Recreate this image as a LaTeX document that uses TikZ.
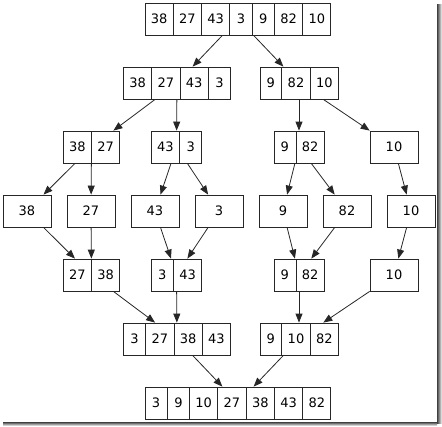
\documentclass[tikz,border=0pt]{standalone}
\usepackage{fontspec}
\setmainfont{DejaVu Sans}
\usetikzlibrary{shapes.multipart,arrows.meta}
\tikzset{
  every node/.style={
    font=\fontsize{13}{15}\selectfont
  },
  record/.style={
    rectangle split,
    rectangle split horizontal,
    rectangle split parts=#1,
    draw=black!85,
    line width=0.8pt,
    inner xsep=0pt,
    inner ysep=0pt
  },
  single/.style={
    shape=rectangle,
    draw=black!85,
    line width=0.8pt,
    minimum width=48pt,
    minimum height=32pt,
    inner sep=0pt
  },
  merge/.style={
    -{Triangle[length=9pt,width=7pt]},
    draw=black!85,
    line width=0.8pt
  }
}
\newcommand{\ncell}[1]{\makebox[21.5pt]{\rule[-11.25pt]{0pt}{32pt}#1}}
\newcommand{\wcell}[1]{\makebox[27.5pt]{\rule[-11.25pt]{0pt}{32pt}#1}}

\begin{document}
\begin{tikzpicture}[x=1pt,y=-1pt]
    \useasboundingbox (0,0) rectangle (442,426);
    % drop shadow of the frame
    \shade[left color=black!75,right color=white] (437,4) rectangle (442,423);
    \shade[top color=black!75,bottom color=white] (3,422) rectangle (437,426);

    % splitting
    \node [record=7] (top) at (238,19) {\wcell{38}\nodepart{two}\wcell{27}\nodepart{three}\wcell{43}\nodepart{four}\ncell{3}\nodepart{five}\ncell{9}\nodepart{six}\wcell{82}\nodepart{seven}\wcell{10}};
    \node [record=4] (l2a) at (177,83) {\wcell{38}\nodepart{two}\wcell{27}\nodepart{three}\wcell{43}\nodepart{four}\ncell{3}};
    \node [record=3] (l2b) at (299,83) {\ncell{9}\nodepart{two}\wcell{82}\nodepart{three}\wcell{10}};
    \node [record=2] (l3a) at (91.5,147) {\wcell{38}\nodepart{two}\wcell{27}};
    \node [record=2] (l3b) at (176.5,147) {\wcell{43}\nodepart{two}\ncell{3}};
    \node [record=2] (l3c) at (299,147) {\ncell{9}\nodepart{two}\wcell{82}};
    \node [single] (l3d) at (394,147) {10};

    % single elements
    \node [single] (s38) at (27,211) {38};
    \node [single] (s27) at (91,211) {27};
    \node [single] (s43) at (155,211) {43};
    \node [single] (s3) at (219,211) {3};
    \node [single] (s9) at (283,211) {9};
    \node [single] (s82) at (347,211) {82};
    \node [single] (s10) at (411,211) {10};

    % merging
    \node [record=2] (l5a) at (91.5,275) {\wcell{27}\nodepart{two}\wcell{38}};
    \node [record=2] (l5b) at (176.5,275) {\ncell{3}\nodepart{two}\wcell{43}};
    \node [record=2] (l5c) at (299,275) {\ncell{9}\nodepart{two}\wcell{82}};
    \node [single] (l5d) at (394,275) {10};
    \node [record=4] (l6a) at (177,339) {\ncell{3}\nodepart{two}\wcell{27}\nodepart{three}\wcell{38}\nodepart{four}\wcell{43}};
    \node [record=3] (l6b) at (299,339) {\ncell{9}\nodepart{two}\wcell{10}\nodepart{three}\wcell{82}};
    \node [record=7] (bottom) at (238,403) {\ncell{3}\nodepart{two}\ncell{9}\nodepart{three}\wcell{10}\nodepart{four}\wcell{27}\nodepart{five}\wcell{38}\nodepart{six}\wcell{43}\nodepart{seven}\wcell{82}};

    \draw [merge] (top) -- (l2a);
    \draw [merge] (top) -- (l2b);
    \draw [merge] (l2a) -- (l3a);
    \draw [merge] (l2a) -- (l3b);
    \draw [merge] (l2b) -- (l3c);
    \draw [merge] (l2b) -- (l3d);
    \draw [merge] (l3a) -- (s38);
    \draw [merge] (l3a) -- (s27);
    \draw [merge] (l3b) -- (s43);
    \draw [merge] (l3b) -- (s3);
    \draw [merge] (l3c) -- (s9);
    \draw [merge] (l3c) -- (s82);
    \draw [merge] (l3d) -- (s10);
    \draw [merge] (s38) -- (l5a);
    \draw [merge] (s27) -- (l5a);
    \draw [merge] (s43) -- (l5b);
    \draw [merge] (s3) -- (l5b);
    \draw [merge] (s9) -- (l5c);
    \draw [merge] (s82) -- (l5c);
    \draw [merge] (s10) -- (l5d);
    \draw [merge] (l5a) -- (l6a);
    \draw [merge] (l5b) -- (l6a);
    \draw [merge] (l5c) -- (l6b);
    \draw [merge] (l5d) -- (l6b);
    \draw [merge] (l6a) -- (bottom);
    \draw [merge] (l6b) -- (bottom);
\end{tikzpicture}
\end{document}
